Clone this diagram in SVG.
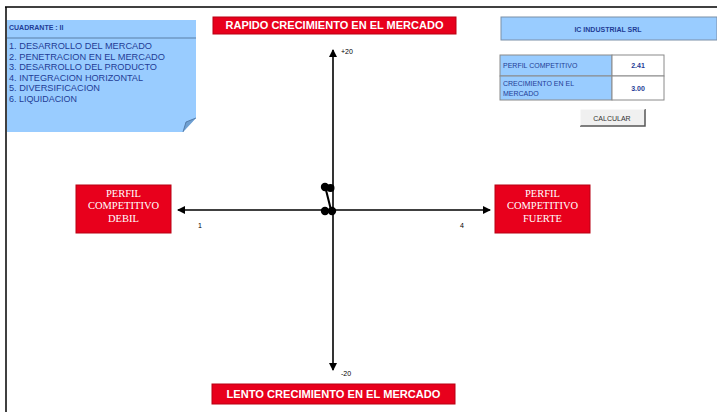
<svg xmlns="http://www.w3.org/2000/svg" width="717" height="412" viewBox="0 0 717 412">
  <defs>
    <style>
      .lbl { font-family: "Liberation Sans", Arial, sans-serif; }
      .red { fill: #e8001c; stroke: #b80012; stroke-width: 1; }
      .redtxt { fill: #ffffff; font-size: 10px; font-weight: bold; text-anchor: middle; }
      .boxtxt { fill: #ffffff; font-size: 10.5px; text-anchor: middle; font-family: "Liberation Serif", serif; }
      .blue { fill: #99ccff; }
      .bluetxt { fill: #1f3c96; font-size: 7px; }
      .notetxt { fill: #1f3c96; font-size: 8.2px; }
      .axis { stroke: #000000; stroke-width: 1.6; fill: none; }
      .tick { fill: #000000; font-size: 7px; }
      .cell { stroke: #8a8a8a; stroke-width: 1; }
    </style>
    <marker id="arrow" viewBox="0 0 8 8" refX="7" refY="4" markerWidth="5" markerHeight="5" orient="auto-start-reverse">
      <path d="M0,0 L8,4 L0,8 Z" fill="#000000"/>
    </marker>
  </defs>

  <rect x="0" y="0" width="717" height="412" fill="#ffffff"/>

  <!-- sheet frame -->
  <g id="frame">
    <line x1="5" y1="7" x2="717" y2="7" stroke="#000" stroke-width="1.5"/>
    <line x1="6" y1="7" x2="6" y2="412" stroke="#000" stroke-width="1.5"/>
  </g>

  <!-- quadrant note -->
  <g id="quadrant-note" class="lbl">
    <path d="M7,20 H196 V118 L183,132 H7 Z" class="blue"/>
    <path d="M183,132 L186,122 L196,118" fill="#6f9fd0" stroke="#4a6f9a" stroke-width="0.8"/>
    <line x1="7" y1="38" x2="196" y2="38" stroke="#5a7fa8" stroke-width="1.2"/>
    <text x="9" y="30" class="bluetxt" font-weight="bold" font-size="8">CUADRANTE : II</text>
    <text x="9" y="49" class="notetxt" textLength="143" lengthAdjust="spacingAndGlyphs">1. DESARROLLO DEL MERCADO</text>
    <text x="9" y="59.5" class="notetxt" textLength="156" lengthAdjust="spacingAndGlyphs">2. PENETRACION EN EL MERCADO</text>
    <text x="9" y="70" class="notetxt" textLength="148" lengthAdjust="spacingAndGlyphs">3. DESARROLLO DEL PRODUCTO</text>
    <text x="9" y="80.5" class="notetxt" textLength="134" lengthAdjust="spacingAndGlyphs">4. INTEGRACION HORIZONTAL</text>
    <text x="9" y="91" class="notetxt" textLength="91" lengthAdjust="spacingAndGlyphs">5. DIVERSIFICACION</text>
    <text x="9" y="101.5" class="notetxt" textLength="68" lengthAdjust="spacingAndGlyphs">6. LIQUIDACION</text>
  </g>

  <!-- growth labels -->
  <g id="label-top" class="lbl">
    <rect x="213" y="17" width="243" height="17" class="red"/>
    <text x="334.5" y="29" class="redtxt" textLength="218" lengthAdjust="spacingAndGlyphs">RAPIDO CRECIMIENTO EN EL MERCADO</text>
  </g>
  <g id="label-bottom" class="lbl">
    <rect x="212" y="384" width="243" height="20" class="red"/>
    <text x="333.5" y="398" class="redtxt" textLength="214" lengthAdjust="spacingAndGlyphs">LENTO CRECIMIENTO EN EL MERCADO</text>
  </g>

  <!-- competitive profile boxes -->
  <g id="box-weak" class="lbl">
    <rect x="76" y="185" width="95" height="48" class="red"/>
    <text x="123.5" y="197" class="boxtxt">PERFIL</text>
    <text x="123.5" y="209" class="boxtxt">COMPETITIVO</text>
    <text x="123.5" y="222" class="boxtxt">DEBIL</text>
  </g>
  <g id="box-strong" class="lbl">
    <rect x="495" y="185" width="95" height="48" class="red"/>
    <text x="542.5" y="197" class="boxtxt">PERFIL</text>
    <text x="542.5" y="209" class="boxtxt">COMPETITIVO</text>
    <text x="542.5" y="222" class="boxtxt">FUERTE</text>
  </g>

  <!-- axes -->
  <g id="connectors">
    <line x1="333" y1="370" x2="333" y2="50" class="axis" marker-start="url(#arrow)" marker-end="url(#arrow)"/>
    <line x1="178" y1="210" x2="490" y2="210" class="axis" marker-start="url(#arrow)" marker-end="url(#arrow)"/>
    <line x1="326" y1="190" x2="331" y2="210" stroke="#000" stroke-width="2"/>
  </g>

  <g id="axis-ticks" class="lbl">
    <text x="341" y="54" class="tick">+20</text>
    <text x="341" y="376" class="tick">-20</text>
    <text x="198" y="228" class="tick">1</text>
    <text x="460" y="228" class="tick">4</text>
  </g>

  <!-- plotted points -->
  <g id="points" fill="#000">
    <circle cx="325" cy="187" r="4.2"/>
    <circle cx="330.5" cy="188" r="4"/>
    <circle cx="325" cy="211" r="4.2"/>
    <circle cx="332" cy="211" r="4.2"/>
  </g>

  <!-- company header -->
  <g id="company" class="lbl">
    <rect x="501" y="17" width="216" height="23" class="blue" stroke="#7a8fa8" stroke-width="1"/>
    <text x="608" y="32" class="bluetxt" font-weight="bold" text-anchor="middle">IC INDUSTRIAL SRL</text>
  </g>

  <!-- result table -->
  <g id="results" class="lbl">
    <rect x="500" y="55" width="112" height="21" class="blue cell"/>
    <rect x="612" y="55" width="52" height="21" fill="#ffffff" class="cell"/>
    <rect x="500" y="76" width="112" height="24" class="blue cell"/>
    <rect x="612" y="76" width="52" height="24" fill="#ffffff" class="cell"/>
    <text x="503" y="68" class="bluetxt">PERFIL COMPETITIVO</text>
    <text x="503" y="86" class="bluetxt">CRECIMIENTO EN EL</text>
    <text x="503" y="96" class="bluetxt">MERCADO</text>
    <text x="638" y="68" class="bluetxt" font-weight="bold" text-anchor="middle">2.41</text>
    <text x="638" y="91" class="bluetxt" font-weight="bold" text-anchor="middle">3.00</text>
  </g>

  <!-- calculate button -->
  <g id="button-calcular" class="lbl">
    <rect x="580" y="109" width="65" height="17" fill="#f0f0f0"/>
    <path d="M580,126 H645 V109" fill="none" stroke="#555" stroke-width="1.5"/>
    <path d="M580,126 V109 H645" fill="none" stroke="#ffffff" stroke-width="1"/>
    <text x="612" y="121" font-size="7" fill="#333" text-anchor="middle">CALCULAR</text>
  </g>
</svg>
